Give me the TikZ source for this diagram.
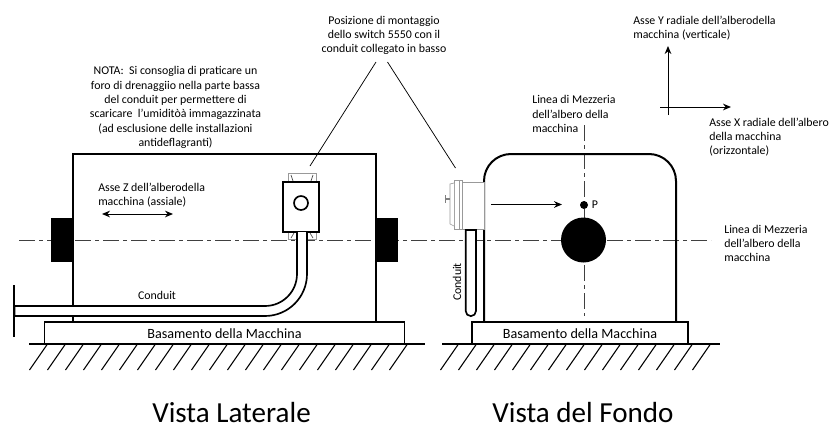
\documentclass[tikz,border=0pt]{standalone}
\usepackage{fontspec}
\setmainfont{Carlito}
\usepackage{tikz}
\usetikzlibrary{arrows.meta, positioning}
\tikzset{
  wall/.style={line width=1.5pt},
  thin wall/.style={line width=1.25pt},
  lead/.style={line width=0.55pt},
  axis/.style={-{Stealth[length=6pt,width=5pt]},line width=0.75pt},
  pale/.style={draw=black!40,line width=0.5pt,fill=white},
  mezzeria/.style={line width=0.55pt,black!75,dash pattern=on 12pt off 3pt on 3pt off 3pt},
  note/.style={font=\fontsize{8.9pt}{10.7pt}\selectfont,align=center,inner sep=0pt},
  title/.style={font=\fontsize{21.8pt}{24pt}\selectfont,inner sep=0pt,anchor=base},
  base text/.style={font=\fontsize{10.6pt}{12pt}\selectfont,inner sep=0pt},
}
\begin{document}
\begin{tikzpicture}[x=0.75pt,y=-0.75pt]
  \useasboundingbox (0,0) rectangle (833,425);

  % centre lines
  \draw[mezzeria] (19,240) -- (711,240);
  \draw[mezzeria] (584,125) -- (584,316);

  % side view
  \draw[wall] (73,322) -- (73,154) -- (376,154) -- (376,322);
  \fill (51,218) rectangle (73,262);
  \fill (376,218) rectangle (398,262);
  \draw[pale] (288,173) rectangle (316,182);
  \draw[pale] (288,232) rectangle (316,239.5);
  \draw[black!70,line width=0.5pt] (291,175) -- (293,181) (313,175) -- (311,181) (291,238) -- (294,233) (310,233) -- (313,238);
  \draw[thin wall,fill=white] (283,182) rectangle (319,232);
  \draw[thin wall] (301,203) circle (7);

  % conduit on the side
  \fill[white] (297,232) -- (297,274) arc (0:90:32) -- (14,306) -- (14,316) -- (265,316) arc (90:0:42) -- (307,232) -- cycle;
  \draw[black!35,line width=0.5pt] (15,306) -- (15,316);
  \draw[thin wall] (297,232) -- (297,274) arc (0:90:32) -- (14,306);
  \draw[thin wall] (307,232) -- (307,274) arc (0:90:42) -- (14,316);
  \draw[wall] (13.5,285) -- (13.5,337);

  % bases and ground
  \foreach \x/\xend in {44.5/404.5, 472/688}
    \draw[thin wall,fill=white] (\x,322) rectangle (\xend,344);
  \draw[thin wall] (29,344) -- (425,344);
  \draw[thin wall] (442,344) -- (720,344);
  \foreach \i in {0,...,20}
    \draw[line width=0.8pt] (29.5+18*\i,370) -- (47.5+18*\i,344);
  \foreach \i in {0,...,14}
    \draw[line width=0.8pt] (440.5+18*\i,370) -- (458.5+18*\i,344);

  % bottom view
  \draw[wall] (484,322) -- (484,181) arc (180:270:27) -- (649,154) arc (270:360:27) -- (676,322);
  \fill (583.5,240) circle (22.5);
  \fill (584,205) circle (4);

  % switch seen from the side
  \draw[pale] (462.7,182) rectangle (484,229);
  \draw[pale] (454,180) rectangle (462.7,229);
  \draw[pale] (459,180) -- (459,229);
  \draw[pale] (454,183) -- (450,184) -- (450,224) -- (454,226);
  \draw[black!50,line width=1pt] (445.7,195) -- (445.7,203) (445.7,199) -- (450,199);

  % conduit below the switch
  \draw[thin wall,fill=white] (465.7,230) -- (476,230) -- (476,311) arc (0:180:5.15) -- cycle;

  \coordinate (pivot) at (491,204.5);
  \coordinate (pivotend) at (562,204.5);
  \draw[axis] (pivot) -- (pivotend);
  \coordinate (zleft) at (102,214);
  \coordinate (zright) at (173,214);
  \draw[axis,{Stealth[length=6pt,width=5pt]}-{Stealth[length=6pt,width=5pt]}] (zleft) -- (zright);

  % axes
  \coordinate (axyo) at (668,115);
  \coordinate (axy) at (668,46);
  \coordinate (axxo) at (660,107);
  \coordinate (axx) at (731,107);
  \draw[axis] (axyo) -- (axy);
  \draw[axis] (axxo) -- (axx);

  % labels
  \node[note] (posizione) at (384,35.5) {Posizione di montaggio\\dello switch 5550 con il\\conduit collegato in basso};
  \node[note] (nota) at (175.5,107.5) {NOTA:\ \ Si consoglia di praticare un\\foro di drenaggiio nella parte bassa\\del conduit per permettere di\\scaricare \ l’umiditòà immagazzinata\\(ad esclusione delle installazioni\\antideflagranti)};
  \node[note,align=left,anchor=west] (assez) at (98,195) {Asse Z dell’alberodella\\macchina (assiale)};
  \node[note] (conduit) at (157,295) {Conduit};
  \node[note,rotate=90] (conduitv) at (457,282) {Conduit};
  \node[note] (puntop) at (595,205) {P};
  \node[base text] (basel) at (224.5,333.5) {Basamento della Macchina};
  \node[base text] (baser) at (580,333.5) {Basamento della Macchina};
  \node[title] (laterale) at (231.5,422.5) {Vista Laterale};
  \node[title] (fondo) at (583,422.5) {Vista del Fondo};
  \node[note,align=left,anchor=west] (mezzv) at (532,114) {Linea di Mezzeria\\dell’albero della\\macchina};
  \node[note,align=left,anchor=west] (mezzo) at (724,243.5) {Linea di Mezzeria\\dell’albero della\\macchina};
  \node[note,align=left,anchor=west] (assey) at (633,28) {Asse Y radiale dell’alberodella\\macchina (verticale)};
  \node[note,align=left,anchor=west] (assex) at (709,137) {Asse X radiale dell’albero\\della macchina\\(orizzontale)};

  % leaders
  \coordinate (leada) at (376,62);
  \coordinate (leadb) at (310,166);
  \coordinate (leadc) at (387.5,62);
  \coordinate (leadd) at (455.5,168);
  \draw[lead] (leada) -- (leadb);
  \draw[lead] (leadc) -- (leadd);
\end{tikzpicture}
\end{document}
